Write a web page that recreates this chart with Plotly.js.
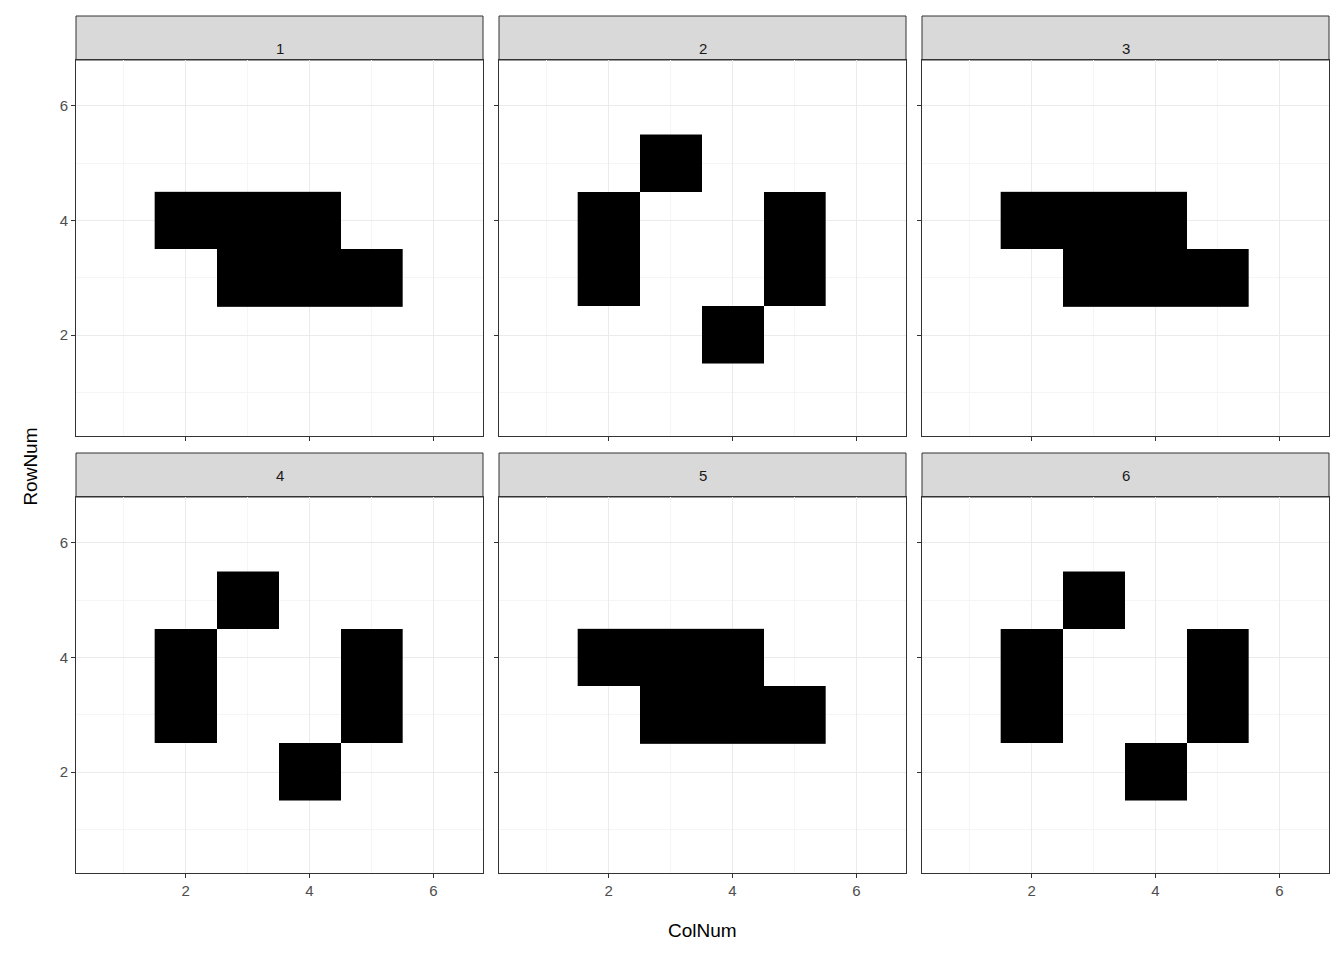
<!DOCTYPE html>
<html>
<head>
<script src="https://cdn.plot.ly/plotly-3.0.1.min.js"></script>
<style>body{margin:0}</style>
</head>
<body>
<div id="myPlot" style="width:1344px;height:960px"></div>
<script>
// tile positions per panel (ColNum, RowNum)
let panels = ['1', '2', '3', '4', '5', '6'];
let shapeA_col = [2, 3, 4, 3, 4, 5];
let shapeA_row = [4, 4, 4, 3, 3, 3];
let shapeB_col = [3, 2, 2, 5, 5, 4];
let shapeB_row = [5, 4, 3, 4, 3, 2];
let panelShape = ['A', 'B', 'A', 'B', 'A', 'B'];

let data1 = [];
let layout = {
  width: 1344, height: 960,
  margin: {l: 76, r: 15, t: 60, b: 86},
  paper_bgcolor: 'white', plot_bgcolor: 'white',
  font: {family: 'Liberation Sans, Arial', size: 15, color: '#4d4d4d'},
  showlegend: false,
  shapes: [], annotations: []
};

let colW = 407 / 1253, gapW = 16 / 1253;
let rowH = 376 / 814, gapH = 61 / 814;

panels.forEach(function (p, i) {
  let c = i % 3, r = Math.floor(i / 3);
  let n = i + 1;
  let xs = panelShape[i] == 'A' ? shapeA_col : shapeB_col;
  let ys = panelShape[i] == 'A' ? shapeA_row : shapeB_row;
  data1.push({
    type: 'heatmap', x: xs, y: ys, z: xs.map(function () { return 1; }),
    colorscale: [[0, 'black'], [1, 'black']], showscale: false,
    xaxis: 'x' + (n == 1 ? '' : n), yaxis: 'y' + (n == 1 ? '' : n), hoverinfo: 'skip'
  });
  let x0 = c * (colW + gapW);
  let y1 = 1 - r * (rowH + gapH);
  let common = {
    showline: true, mirror: true, linecolor: '#333333', linewidth: 1,
    showgrid: true, gridcolor: '#ebebeb', gridwidth: 1.2, zeroline: false,
    dtick: 2, tick0: 0, ticks: 'outside', ticklen: 4, tickcolor: '#333333',
    minor: {dtick: 1, tick0: 0, showgrid: true, gridcolor: '#f5f5f5', gridwidth: 0.8},
    tickfont: {size: 15, color: '#4d4d4d'}
  };
  layout['xaxis' + (n == 1 ? '' : n)] = Object.assign({}, common, {
    domain: [x0, x0 + colW], range: [0.23, 6.8],
    anchor: 'y' + (n == 1 ? '' : n), showticklabels: r == 1
  });
  layout['yaxis' + (n == 1 ? '' : n)] = Object.assign({}, common, {
    domain: [y1 - rowH, y1], range: [0.24, 6.8],
    anchor: 'x' + (n == 1 ? '' : n), showticklabels: c == 0
  });
  let xd = 'x' + (n == 1 ? '' : n) + ' domain';
  let stripH = 44 / 814;
  layout.shapes.push({
    type: 'rect', xref: xd, yref: 'paper', x0: 0, x1: 1, y0: y1, y1: y1 + stripH,
    fillcolor: '#d9d9d9', line: {color: '#333333', width: 1}, layer: 'below'
  });
  layout.annotations.push({
    text: p, xref: xd, yref: 'paper', x: 0.5, y: y1 + stripH / 2,
    showarrow: false, font: {size: 15, color: '#1a1a1a'}
  });
});

layout.annotations.push({
  text: 'ColNum', xref: 'paper', yref: 'paper', x: 0.5, y: -0.085,
  showarrow: false, font: {size: 19, color: 'black'}
});
layout.annotations.push({
  text: 'RowNum', xref: 'paper', yref: 'paper', x: -0.047, y: 0.5, textangle: -90,
  showarrow: false, font: {size: 19, color: 'black'}
});

Plotly.newPlot('myPlot', data1, layout, {displayModeBar: false});
</script>
</body>
</html>
